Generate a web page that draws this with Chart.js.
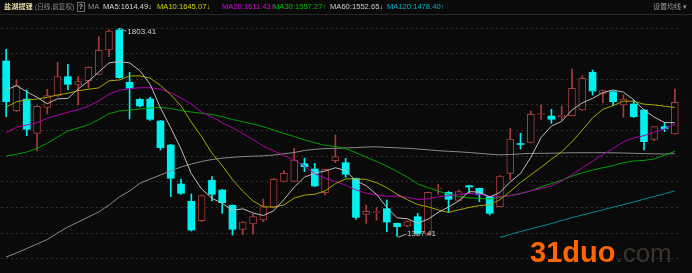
<!DOCTYPE html>
<html>
<head>
<meta charset="utf-8">
<script src="https://cdn.jsdelivr.net/npm/chart.js@4.4.0/dist/chart.umd.min.js"></script>
<style>
  body { margin: 0; background: #0a0a0a; }
  #wrap { position: relative; width: 692px; height: 273px; overflow: hidden; background: #0a0a0a;
          font-family: "Liberation Sans", "Noto Sans CJK SC", sans-serif; }
  #chart { position: absolute; left: 0; top: 0; }
  .hd { position: absolute; top: 2px; font-size: 7.6px; line-height: 10px; white-space: nowrap; }
  #sep { position: absolute; left: 0; top: 14px; width: 692px; height: 1px; background: #262626; }
  #help { position: absolute; left: 77px; top: 2px; width: 6px; height: 8px; border: 1px solid #6a6a6a;
          color: #bbb; font-size: 7px; line-height: 8px; text-align: center; font-weight: bold; }
  #mark { position: absolute; left: 530px; top: 236px; line-height: 32px; white-space: nowrap; }
  #mark b { color: #ff6600; font-size: 29px; }
  #mark span { color: #3a3530; font-size: 26px; }
</style>
</head>
<body>
<div id="wrap">
  <canvas id="chart" width="692" height="273"></canvas>
  <div class="hd" style="left:4px;color:#e3d5a4;font-weight:bold;font-size:7.2px">盐湖提锂</div>
  <div class="hd" style="left:35px;color:#8c8c8c;font-size:6.6px">(日线,前复权)</div>
  <div id="help">?</div>
  <div class="hd" style="left:88px;color:#8c8c8c">MA</div>
  <div class="hd" style="left:103px;color:#d6d6d6">MA5:1614.49↓</div>
  <div class="hd" style="left:157px;color:#d4d400">MA10:1645.07↓</div>
  <div class="hd" style="left:222px;color:#e000e0">MA20:1611.43↑</div>
  <div class="hd" style="left:273px;color:#00c000">MA30:1557.27↑</div>
  <div class="hd" style="left:330px;color:#cfcfcf">MA60:1552.65↓</div>
  <div class="hd" style="left:387px;color:#00b5cc">MA120:1478.40↑</div>
  <div class="hd" style="left:653px;color:#999;font-size:7px">设置均线 ▾</div>
  <div id="sep"></div>
  <div id="mark"><b>31duo</b><span>.com</span></div>
</div>
<script>
'use strict'

//Data ---------------------------------------------------------
const opens = [1738, 1638.6, 1662, 1593.4, 1645.4, 1668, 1706.6, 1690, 1698.6, 1711.4,
  1760, 1800, 1695.4, 1661.4, 1662, 1618, 1570, 1492, 1457.4, 1418.6,
  1499.4, 1480, 1449.4, 1401.4, 1412, 1420, 1445.4, 1497.4, 1497.4, 1532.6,
  1522, 1474.6, 1538.6, 1534.6, 1503.4, 1431.4, 1434.6, 1442.6, 1413.4, 1408,
  1426.6, 1392, 1482, 1475.4, 1459.4, 1488.6, 1483.4, 1466.6, 1446.6, 1513.4,
  1573, 1575.4, 1631, 1628, 1626.6, 1628.6, 1640, 1715.4, 1673.4, 1676.6,
  1650, 1652, 1640, 1581.4, 1606.6, 1592];
const highs = [1761.4, 1700, 1680, 1649, 1681.4, 1735.4, 1731.4, 1706.6, 1726.4, 1786.6,
  1801, 1803.41, 1715.4, 1663, 1665.4, 1619, 1571, 1502, 1472, 1470,
  1506.6, 1481, 1450, 1417, 1432, 1462, 1503, 1518.6, 1563.4, 1544,
  1533.4, 1522, 1590, 1543.4, 1504, 1450, 1444.6, 1460, 1414, 1418,
  1433.4, 1476, 1491.4, 1477, 1480, 1489.5, 1484, 1467, 1509, 1603.4,
  1593.4, 1638, 1650, 1641.4, 1648, 1722, 1708.6, 1720, 1680, 1678,
  1670, 1660, 1641, 1607, 1614.6, 1682];
const lows = [1626.6, 1637, 1588.6, 1558, 1632, 1667, 1680, 1650, 1683.4, 1710.4,
  1746.6, 1703.6, 1622, 1646, 1619, 1560, 1466.6, 1471, 1398, 1417,
  1458, 1433.4, 1390, 1391, 1392, 1416.6, 1444, 1496.4, 1496.4, 1516.6,
  1487, 1470, 1534.6, 1505.4, 1421.4, 1413.4, 1420, 1396.6, 1387.41, 1406,
  1392, 1390, 1471.4, 1434.6, 1459, 1473.4, 1456.6, 1430, 1446, 1500,
  1562, 1574, 1621.4, 1613.4, 1620, 1628, 1639, 1670, 1654.6, 1648.6,
  1625.4, 1625, 1560, 1578.6, 1596.6, 1591];
const closes = [1656.6, 1688.6, 1601.4, 1647.4, 1668.6, 1706.6, 1691.4, 1696.6, 1725.4, 1759.4,
  1798, 1704.6, 1683.4, 1648, 1621.4, 1564.6, 1503.4, 1473.4, 1400, 1468.6,
  1471.4, 1454.6, 1401.4, 1416, 1426.6, 1446.6, 1501.4, 1513.4, 1540, 1526.6,
  1488, 1521.4, 1546.6, 1511.4, 1425.4, 1437.4, 1436.6, 1416, 1406.6, 1416.6,
  1393, 1475.4, 1484, 1461.4, 1476.6, 1486, 1471.4, 1433.4, 1508, 1582,
  1571, 1631.4, 1633, 1621.4, 1630, 1683.4, 1703.4, 1678, 1678.6, 1656.6,
  1662, 1626.6, 1576.6, 1606.6, 1602.6, 1655.4];

const ma5 = [1680, 1688.6, 1676.6, 1665.4, 1652.5, 1662.5, 1663.1, 1682.1, 1697.7, 1715.9,
  1734.2, 1736.8, 1734.2, 1718.7, 1691.1, 1644.4, 1604.2, 1562.2, 1512.6, 1482,
  1463.4, 1453.6, 1439.2, 1442.4, 1434, 1429, 1438.4, 1460.8, 1485.6, 1505.6,
  1513.9, 1517.9, 1524.5, 1518.8, 1498.6, 1488.4, 1471.4, 1445.2, 1424.3, 1422.5,
  1413.4, 1421.5, 1435.1, 1446.1, 1458.1, 1476.7, 1475.9, 1465.8, 1475.1, 1496.2,
  1513.2, 1545.2, 1585.1, 1607.8, 1617.4, 1639.8, 1654.2, 1663.2, 1674.7, 1680,
  1675.7, 1660.4, 1640.1, 1625.7, 1614.9, 1614.49];
const ma10 = [1645.4, 1656.6, 1660, 1662, 1665.4, 1670, 1673.4, 1678.6, 1681.4, 1684.2,
  1698.4, 1700, 1708.2, 1708.2, 1703.5, 1689.3, 1670.5, 1648.2, 1615.7, 1586.6,
  1553.9, 1528.9, 1500.7, 1477.5, 1458, 1446.2, 1446, 1450, 1464, 1469.8,
  1471.5, 1478.2, 1492.7, 1502.2, 1502.1, 1501.2, 1494.6, 1484.8, 1471.5, 1460.5,
  1450.9, 1446.4, 1440.1, 1435.1, 1440.2, 1445.1, 1448.7, 1450.5, 1460.6, 1477.2,
  1495, 1510.6, 1525.5, 1541.5, 1556.8, 1576.5, 1599.7, 1624.2, 1641.3, 1648.7,
  1657.8, 1657.3, 1651.7, 1650.2, 1647.5, 1645.07];
const ma20 = [1594.6, 1605.4, 1610, 1614.6, 1623.4, 1630, 1635.4, 1640.6, 1648, 1658,
  1672, 1679.4, 1682.6, 1684.6, 1684.6, 1681.4, 1674.6, 1664, 1652, 1635.4,
  1626.2, 1614.5, 1604.5, 1592.9, 1580.8, 1567.8, 1558.3, 1549.1, 1539.9, 1528.2,
  1512.7, 1503.6, 1496.7, 1489.9, 1480.1, 1473.7, 1470.3, 1467.4, 1467.8, 1465.2,
  1461.2, 1462.3, 1466.4, 1468.7, 1471.2, 1473.2, 1471.7, 1467.7, 1466.1, 1468.9,
  1473, 1478.5, 1482.8, 1488.3, 1498.5, 1510.8, 1524.2, 1537.4, 1551, 1563,
  1576.4, 1584, 1588.6, 1595.9, 1602.2, 1611.43];
const ma30 = [1548, 1551.4, 1556, 1563.4, 1573.4, 1586, 1598, 1604, 1610.6, 1621,
  1632.6, 1638, 1640, 1642, 1644, 1645.4, 1643, 1639, 1636, 1633.4,
  1631, 1626.6, 1621, 1616.6, 1612, 1606.6, 1600, 1593, 1587, 1580.2,
  1574.6, 1569.1, 1567.2, 1562.7, 1554.6, 1545.6, 1537, 1527.7, 1517.1, 1505.7,
  1492.1, 1484.5, 1477.8, 1471.6, 1466.8, 1464.2, 1463.1, 1461.8, 1465.4, 1469.2,
  1472.5, 1478.4, 1486.1, 1492.9, 1499.7, 1507.6, 1514.3, 1519.9, 1524.5, 1528.8,
  1534.6, 1538.1, 1539.1, 1542.3, 1549.5, 1557.27];
const ma60 = [1346, 1354, 1363, 1372, 1381, 1394, 1406, 1416, 1426, 1436,
  1450, 1466, 1478, 1493.4, 1502, 1510, 1518, 1526, 1532, 1537,
  1541, 1543.6, 1545.4, 1546.8, 1547.6, 1548.4, 1550, 1552.4, 1555, 1559,
  1561.4, 1562.8, 1563.4, 1564, 1564.8, 1566, 1566.4, 1565.2, 1564.4, 1563.4,
  1562, 1560.4, 1558.6, 1557.4, 1556.4, 1555, 1553.4, 1551.6, 1550.4, 1551,
  1552.4, 1553.2, 1553.4, 1553.6, 1554, 1554.6, 1554.6, 1554.6, 1554.6, 1554.4,
  1554, 1553.4, 1552.8, 1552.4, 1552, 1552.65];
// MA120 only starts late in the window
const ma120 = Array(48).fill(null).concat([1385.4, 1391, 1397, 1402.4, 1407.6, 1413,
  1419, 1424.6, 1430, 1435, 1440.4, 1445.6, 1450.8, 1456, 1461.6, 1467, 1472.5, 1478.4]);

const gridLevels = [1342.6, 1393.8, 1445, 1496.2, 1547.4, 1598.6, 1650, 1701.2, 1752.4, 1803.6];
const days = opens.map((o, i) => i + 1);

//Styles ---------------------------------------------------------
const bgColor = '#0a0a0a';
const upColor = '#a83c3c';
const downColor = '#00f0f0';
const isUp = closes.map((c, i) => c >= opens[i]);

function maLine(label, data, color) {
  return {
    type: 'line', label: label, data: data, borderColor: color, borderWidth: 1,
    pointRadius: 0, tension: 0, spanGaps: false, order: 0
  };
}

//High / low markers ---------------------------------------------------------
const extremeLabels = {
  id: 'extremeLabels',
  afterDatasetsDraw(chart) {
    const ctx = chart.ctx;
    const xs = chart.scales.x;
    const ys = chart.scales.y;
    const hi = highs.indexOf(Math.max(...highs));
    const lo = lows.indexOf(Math.min(...lows));
    ctx.save();
    ctx.strokeStyle = '#b0b0b0';
    ctx.fillStyle = '#cfcfcf';
    ctx.lineWidth = 1;
    ctx.font = '8px "Liberation Sans", sans-serif';
    ctx.textBaseline = 'middle';

    let px = xs.getPixelForValue(hi);
    let py = ys.getPixelForValue(highs[hi]);
    ctx.beginPath();
    ctx.moveTo(px + 1, py);
    ctx.lineTo(px + 7, py + 3);
    ctx.stroke();
    ctx.fillText(highs[hi].toFixed(2), px + 8, py + 4);

    px = xs.getPixelForValue(lo);
    py = ys.getPixelForValue(lows[lo]);
    ctx.beginPath();
    ctx.moveTo(px + 1, py + 1);
    ctx.lineTo(px + 9, py - 2);
    ctx.stroke();
    ctx.fillText(lows[lo].toFixed(2), px + 10, py - 2);
    ctx.restore();
  }
};

//Chart ---------------------------------------------------------
new Chart(document.getElementById('chart'), {
  type: 'bar',
  data: {
    labels: days,
    datasets: [
      maLine('MA5', ma5, '#bdbdbd'),
      maLine('MA10', ma10, '#a8a800'),
      maLine('MA20', ma20, '#b000b0'),
      maLine('MA30', ma30, '#00a000'),
      maLine('MA60', ma60, '#8a8a8a'),
      maLine('MA120', ma120, '#008c9a'),
      {
        label: 'body',
        data: opens.map((o, i) => [o, closes[i]]),
        backgroundColor: isUp.map(u => u ? bgColor : downColor),
        borderColor: isUp.map(u => u ? upColor : downColor),
        borderWidth: isUp.map(u => u ? 1 : 0),
        borderSkipped: false,
        barThickness: 7,
        grouped: false,
        order: 1
      },
      {
        label: 'wick',
        data: lows.map((l, i) => [l, highs[i]]),
        backgroundColor: isUp.map(u => u ? upColor : downColor),
        barThickness: 1,
        grouped: false,
        order: 2
      }
    ]
  },
  options: {
    responsive: false,
    animation: false,
    devicePixelRatio: 1,
    layout: { padding: { left: 1, right: 12, top: 20, bottom: 3 } },
    plugins: { legend: { display: false }, tooltip: { enabled: false } },
    scales: {
      x: { display: false },
      y: {
        min: 1320,
        max: 1820,
        ticks: { display: false },
        grid: { color: '#2e2e2e', drawTicks: false },
        border: { display: false, dash: [2, 3] },
        afterBuildTicks: s => { s.ticks = gridLevels.map(v => ({ value: v })); },
        afterFit: s => { s.width = 0; }
      }
    }
  },
  plugins: [extremeLabels]
});
</script>
</body>
</html>
